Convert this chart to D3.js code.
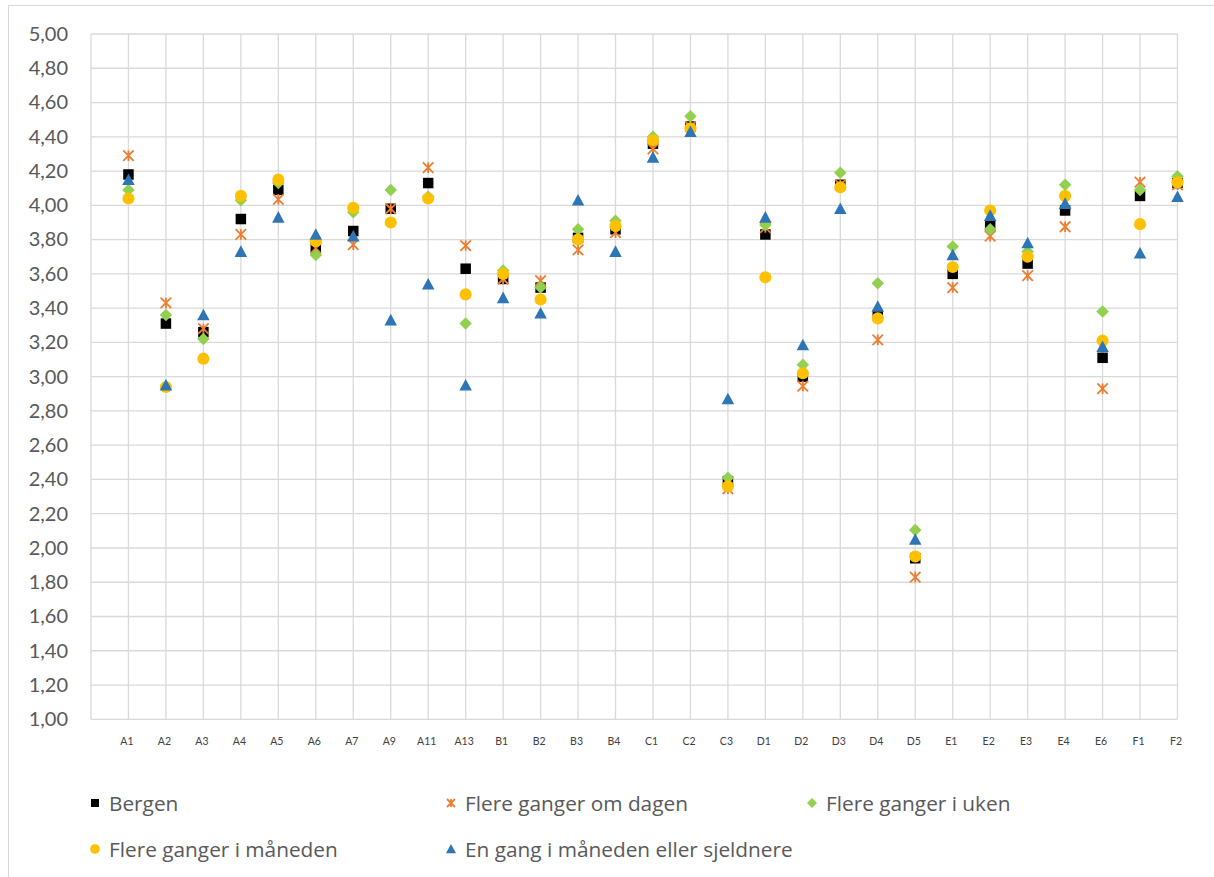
<!DOCTYPE html>
<html>
<head>
<meta charset="utf-8">
<script src="https://cdn.jsdelivr.net/npm/d3@7"></script>
<style>
  html, body { margin: 0; padding: 0; background: #fff; }
  svg { display: block; }
</style>
</head>
<body>
<svg id="chart" width="1214" height="877"></svg>
<script>
const categories = ["A1","A2","A3","A4","A5","A6","A7","A9","A11","A13","B1","B2","B3","B4","C1","C2","C3","D1","D2","D3","D4","D5","E1","E2","E3","E4","E6","F1","F2"];

const bergen        = [4.18,3.31,3.26,3.92,4.09,3.75,3.85,3.98,4.13,3.63,3.57,3.52,3.81,3.86,4.36,4.46,2.39,3.83,3.00,4.12,3.36,1.94,3.60,3.88,3.66,3.97,3.11,4.055,4.13];
const omDagen       = [4.29,3.43,3.28,3.83,4.035,3.75,3.77,3.98,4.22,3.765,3.57,3.56,3.74,3.84,4.33,4.46,2.345,3.87,2.945,4.12,3.215,1.83,3.52,3.82,3.59,3.875,2.93,4.135,4.12];
const iUken         = [4.09,3.36,3.22,4.03,4.13,3.71,3.96,4.09,4.05,3.31,3.62,3.52,3.86,3.91,4.40,4.52,2.41,3.885,3.07,4.19,3.545,2.105,3.76,3.86,3.73,4.12,3.38,4.09,4.17];
const iMaaneden     = [4.04,2.94,3.105,4.055,4.15,3.79,3.985,3.90,4.04,3.48,3.60,3.45,3.80,3.88,4.38,4.45,2.36,3.58,3.02,4.105,3.34,1.95,3.64,3.97,3.70,4.055,3.21,3.89,4.135];
const sjeldnere     = [4.15,2.95,3.36,3.73,3.93,3.83,3.82,3.33,3.54,2.95,3.46,3.37,4.03,3.73,4.28,4.43,2.87,3.93,3.185,3.98,3.41,2.05,3.71,3.94,3.78,4.01,3.175,3.72,4.05];

const yTicks = [1.0,1.2,1.4,1.6,1.8,2.0,2.2,2.4,2.6,2.8,3.0,3.2,3.4,3.6,3.8,4.0,4.2,4.4,4.6,4.8,5.0];

const seriesNames = ["Bergen","Flere ganger om dagen","Flere ganger i uken","Flere ganger i måneden","En gang i måneden eller sjeldnere"];

const series = [
  {name: seriesNames[0], values: bergen,    color: "#000000", shape: "square"},
  {name: seriesNames[1], values: omDagen,   color: "#ED7D31", shape: "star"},
  {name: seriesNames[2], values: iUken,     color: "#92D050", shape: "diamond"},
  {name: seriesNames[3], values: iMaaneden, color: "#FFC000", shape: "circle"},
  {name: seriesNames[4], values: sjeldnere, color: "#2E75B6", shape: "triangle"}
];

const svg = d3.select("#chart");

// chart area border
svg.append("rect").attr("x", 8.5).attr("y", 5.5).attr("width", 1400).attr("height", 1000)
  .attr("fill", "#fff").attr("stroke", "#d9d9d9").attr("stroke-width", 1);

const plot = {left: 91, right: 1177.5, top: 34, bottom: 719.3};

const x = d3.scaleLinear().domain([0, categories.length]).range([plot.left, plot.right]);
const y = d3.scaleLinear().domain([1, 5]).range([plot.bottom, plot.top]);

const g = svg.append("g");

// horizontal gridlines
g.append("g").selectAll("line").data(yTicks).join("line")
  .attr("x1", plot.left).attr("x2", plot.right)
  .attr("y1", d => y(d)).attr("y2", d => y(d))
  .attr("stroke", "#d9d9d9").attr("stroke-width", 1.3);

// vertical gridlines
g.append("g").selectAll("line").data(d3.range(0, categories.length + 1)).join("line")
  .attr("x1", d => x(d)).attr("x2", d => x(d))
  .attr("y1", plot.top).attr("y2", plot.bottom)
  .attr("stroke", "#d9d9d9").attr("stroke-width", 1.3);

// y axis labels
const fmt = d => d.toFixed(2).replace(".", ",");
const yAxis = d3.axisLeft(y).tickValues(yTicks).tickFormat(fmt).tickSize(0).tickPadding(23);
const ya = svg.append("g").attr("transform", `translate(${plot.left},0)`).call(yAxis);
ya.select(".domain").remove();
ya.selectAll("text").style("font-family", "Lato, sans-serif").style("font-size", "20px")
  .attr("fill", "#595959");

// x axis labels
const xAxis = d3.axisBottom(x).tickValues(d3.range(1, categories.length + 1))
  .tickFormat(d => categories[d - 1]).tickSize(0).tickPadding(18);
const xa = svg.append("g").attr("transform", `translate(-2,${plot.bottom})`).call(xAxis);
xa.select(".domain").remove();
xa.selectAll("text").style("font-family", "Lato, sans-serif").style("font-size", "10.5px")
  .attr("fill", "#404040");

// markers
function drawMarker(sel, shape, color, s) {
  if (shape === "square") {
    sel.append("rect").attr("x", -s/2).attr("y", -s/2).attr("width", s).attr("height", s).attr("fill", color);
  } else if (shape === "circle") {
    sel.append("circle").attr("r", s/2 + 0.8).attr("fill", color);
  } else if (shape === "diamond") {
    const h = s/2 + 1;
    sel.append("path").attr("d", `M0,${-h}L${h},0L0,${h}L${-h},0Z`).attr("fill", color);
  } else if (shape === "triangle") {
    const h = s/2 + 1;
    sel.append("path").attr("d", `M0,${-h}L${h},${h*0.85}L${-h},${h*0.85}Z`).attr("fill", color);
  } else if (shape === "star") {
    const h = s/2;
    sel.append("path").attr("d", `M${-h},${-h}L${h},${h}M${h},${-h}L${-h},${h}M0,${-h}L0,${h}`)
      .attr("stroke", color).attr("stroke-width", 1.8).attr("fill", "none");
  }
}

series.forEach(sr => {
  const sg = svg.append("g");
  sr.values.forEach((v, i) => {
    const m = sg.append("g").attr("transform", `translate(${x(i + 1)},${y(v)})`);
    drawMarker(m, sr.shape, sr.color, 10.5);
  });
});

// legend
const legendPos = [
  {x: 95, y: 803}, {x: 451, y: 803}, {x: 812, y: 803},
  {x: 95, y: 849}, {x: 451, y: 849}
];
series.forEach((sr, i) => {
  const lg = svg.append("g").attr("transform", `translate(${legendPos[i].x},${legendPos[i].y})`);
  drawMarker(lg, sr.shape, sr.color, 8);
  lg.append("text").attr("x", 14).attr("y", 0).attr("dy", "0.36em")
    .style("font-family", "'Open Sans', sans-serif")
    .style("font-size", "20.8px").attr("fill", "#595959").text(sr.name);
});
</script>
</body>
</html>
